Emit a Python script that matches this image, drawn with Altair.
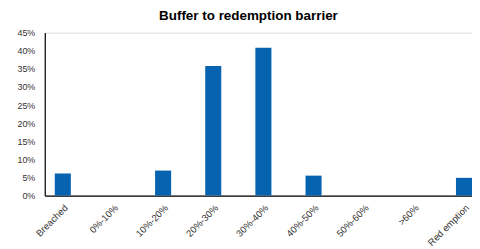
import altair as alt
import pandas as pd

categories = ["Breached", "0%-10%", "10%-20%", "20%-30%", "30%-40%",
              "40%-50%", "50%-60%", ">60%", "Red emption"]
values = [0.061, 0.0, 0.069, 0.358, 0.408, 0.055, 0.0, 0.0, 0.049]
y_ticks = [0, 0.05, 0.10, 0.15, 0.20, 0.25, 0.30, 0.35, 0.40, 0.45]

df = pd.DataFrame({"cat": categories, "val": values})

font = "Liberation Sans"

chart = alt.Chart(df).mark_bar(
    color="#0563B0"
).encode(
    x=alt.X("cat:N", sort=categories, title=None,
            scale=alt.Scale(paddingInner=0.68, paddingOuter=0.1, align=1.0),
            axis=alt.Axis(labelAngle=-45, labelAlign="right", labelBaseline="top",
                          labelPadding=7, ticks=False, domainColor="#000000",
                          domainWidth=1.2, labelFontSize=9.5, labelColor="#333333",
                          labelFont=font, labelOverlap=False)),
    y=alt.Y("val:Q", title=None,
            scale=alt.Scale(domain=[0, 0.45], nice=False),
            axis=alt.Axis(format=".0%", values=y_ticks, ticks=False, grid=False,
                          domainColor="#000000", domainWidth=1.2, labelPadding=10,
                          labelFontSize=9, labelColor="#333333", labelFont=font)),
).properties(
    width=430, height=164,
    title=alt.TitleParams("Buffer to redemption barrier", fontSize=13.5,
                          fontWeight="bold", font=font, color="#000000",
                          offset=6, dx=-10),
    padding={"left": 8, "top": 0, "right": 0, "bottom": 0},
).configure_view(stroke=None).configure(background="white")

chart.save("out.html", embed_options={"renderer": "svg", "actions": False})
